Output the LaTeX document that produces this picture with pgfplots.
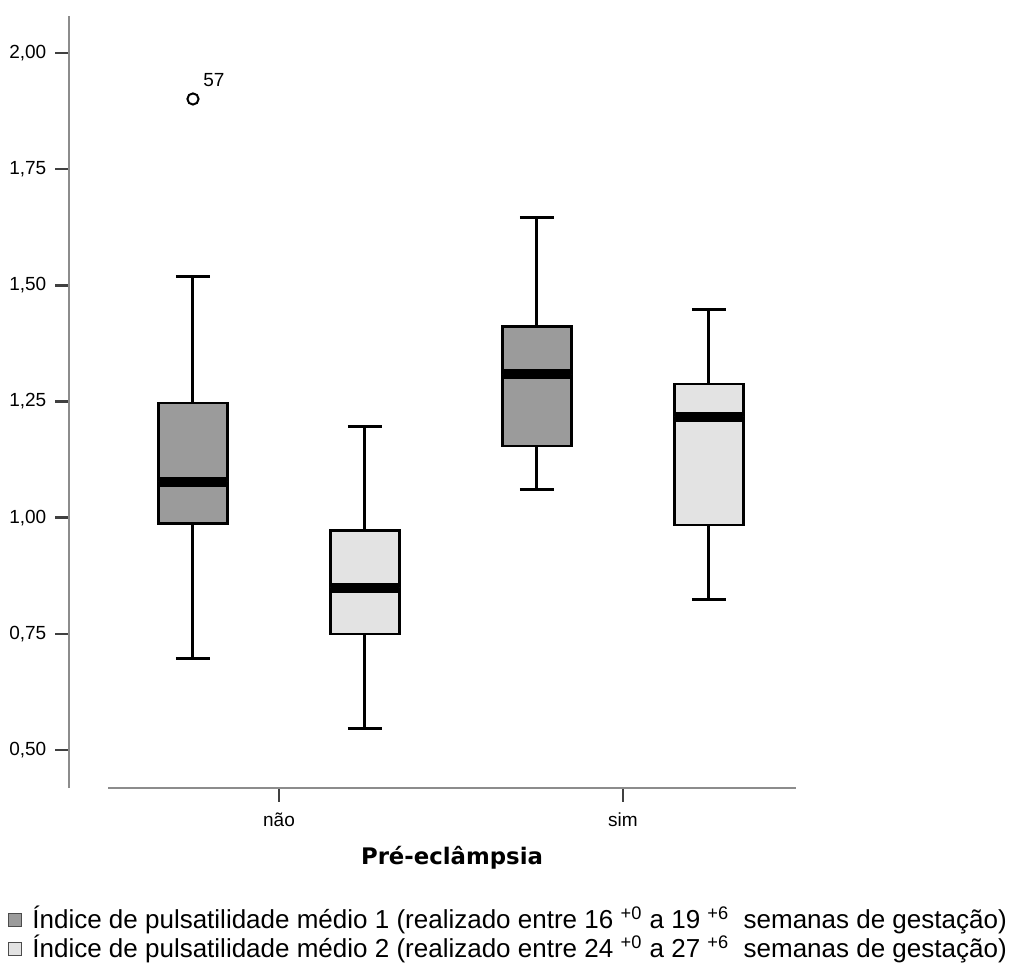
\documentclass[border=0pt]{standalone}
\usepackage{fontspec}
\setmainfont{Liberation Sans}
\newfontfamily\titlefont{DejaVu Sans}
\newfontfamily\legfont{Liberation Sans}
\usepackage{pgfplots}
\usepgfplotslibrary{statistics}
\pgfplotsset{compat=1.18}
\definecolor{boxdark}{RGB}{155,155,155}
\definecolor{boxlight}{RGB}{227,227,227}
\definecolor{axisgray}{RGB}{140,140,140}
\pgfplotsset{
    boxplot/every whisker/.style={line width=1.5pt, draw=black},
    boxplot/every median/.style={line width=5pt, draw=black},
    boxplot/every box/.style={line width=1.3pt, draw=black},
}

\begin{document}
\begin{tikzpicture}
\begin{axis}[
    width=363.5pt, height=386pt, scale only axis,
    xmin=0.3895, xmax=2.503,
    ymin=0.4182, ymax=2.0795,
    axis lines*=left,
    x axis line style={draw=none},
    y axis line style={axisgray, line width=1.2pt},
    tick align=outside,
    tick style={black!75, line width=1.2pt},
    major tick length=6.8pt,
    xtick={1,2}, xticklabels={não,sim},
    ytick={0.5,0.75,1,1.25,1.5,1.75,2},
    /pgf/number format/.cd, fixed, zerofill, precision=2, use comma, assume math mode=true,
    /pgfplots/.cd,
    ticklabel style={font=\fontsize{9.5}{11}\selectfont},
    yticklabel style={xshift=-1pt},
    xticklabel style={yshift=-2pt},
    clip=false,
    boxplot/draw direction=y,
]
\addplot[draw=black, fill=boxdark, line width=1.5pt, mark=o, mark size=2.8pt,
    mark options={line width=1pt, fill=none},
    boxplot prepared={draw position=0.75, lower whisker=0.698, lower quartile=0.988,
      median=1.077, upper quartile=1.247, upper whisker=1.518,
      box extend=0.2, whisker extend=0.1}]
    table[row sep=\\, y index=0] {data\\ 1.901\\};
\addplot[draw=black, fill=boxlight, line width=1.5pt,
    boxplot prepared={draw position=1.25, lower whisker=0.547, lower quartile=0.750,
      median=0.849, upper quartile=0.973, upper whisker=1.197,
      box extend=0.2, whisker extend=0.1}]
    coordinates {};
\addplot[draw=black, fill=boxdark, line width=1.5pt,
    boxplot prepared={draw position=1.75, lower whisker=1.060, lower quartile=1.154,
      median=1.309, upper quartile=1.412, upper whisker=1.647,
      box extend=0.2, whisker extend=0.1}]
    coordinates {};
\addplot[draw=black, fill=boxlight, line width=1.5pt,
    boxplot prepared={draw position=2.25, lower whisker=0.823, lower quartile=0.984,
      median=1.217, upper quartile=1.288, upper whisker=1.449,
      box extend=0.2, whisker extend=0.1}]
    coordinates {};

% x axis line (starts to the right of the y axis)
\draw[axisgray, line width=1.2pt] (axis cs:0.503,0.4182) -- (axis cs:2.503,0.4182);

% outlier case number
\node[anchor=base west, inner sep=0pt, font=\fontsize{9.5}{11}\selectfont]
    at (axis cs:0.779,1.927) {57};

% axis title
\node[anchor=base, inner sep=0pt, font=\titlefont\bfseries\fontsize{11.4}{13}\selectfont]
    at (axis cs:1.503,0.2547) {Pré-eclâmpsia};

% legend
\node[draw=black!70, fill=boxdark, line width=0.9pt, minimum size=6.5pt, inner sep=0pt]
    at (axis cs:0.2326,0.1342) {};
\node[draw=black!70, fill=boxlight, line width=0.9pt, minimum size=6.5pt, inner sep=0pt]
    at (axis cs:0.2326,0.0718) {};
\node[anchor=base west, inner sep=0pt, font=\legfont\fontsize{13}{15}\selectfont]
    at (axis cs:0.282,0.117)
    {Índice de pulsatilidade médio 1 (realizado entre 16 \textsuperscript{+0} a 19 \textsuperscript{+6}\ \ semanas de gestação)};
\node[anchor=base west, inner sep=0pt, font=\legfont\fontsize{13}{15}\selectfont]
    at (axis cs:0.282,0.0546)
    {Índice de pulsatilidade médio 2 (realizado entre 24 \textsuperscript{+0} a 27 \textsuperscript{+6}\ \ semanas de gestação)};

\coordinate (bbl) at (axis cs:0.189,0.033);
\coordinate (btr) at (axis cs:3.131,2.114);
\end{axis}
\pgfresetboundingbox
\path[use as bounding box] (bbl) rectangle (btr);
\end{tikzpicture}
\end{document}
